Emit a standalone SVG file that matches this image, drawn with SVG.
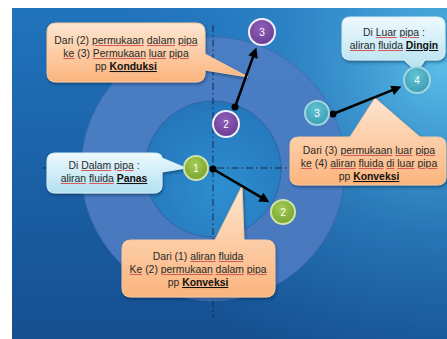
<svg xmlns="http://www.w3.org/2000/svg" width="447" height="339" viewBox="0 0 447 339">
<defs>
<linearGradient id="bgBase" x1="0" y1="0" x2="0" y2="1">
<stop offset="0" stop-color="#2173bd"/>
<stop offset="1" stop-color="#154f90"/>
</linearGradient>
<radialGradient id="bgHi" cx="440" cy="70" r="330" gradientUnits="userSpaceOnUse">
<stop offset="0" stop-color="#5cc0ea" stop-opacity="0.95"/>
<stop offset="0.5" stop-color="#3a95d0" stop-opacity="0.45"/>
<stop offset="1" stop-color="#2a80c4" stop-opacity="0"/>
</radialGradient>
<linearGradient id="ring" x1="0" y1="0" x2="0" y2="1">
<stop offset="0" stop-color="#4a7ec4"/>
<stop offset="1" stop-color="#4878bd"/>
</linearGradient>
<radialGradient id="core" cx="0.55" cy="0.65" r="0.7">
<stop offset="0" stop-color="#2d8fd0"/>
<stop offset="1" stop-color="#2474b8"/>
</radialGradient>
<linearGradient id="orange" x1="0" y1="0" x2="0" y2="1">
<stop offset="0" stop-color="#fde6d2"/>
<stop offset="1" stop-color="#fbb47c"/>
</linearGradient>
<linearGradient id="cyan" x1="0" y1="0" x2="0" y2="1">
<stop offset="0" stop-color="#eef9fd"/>
<stop offset="1" stop-color="#b2e1f0"/>
</linearGradient>
<radialGradient id="green" cx="0.45" cy="0.35" r="0.7">
<stop offset="0" stop-color="#a6cc55"/>
<stop offset="1" stop-color="#74a02c"/>
</radialGradient>
<radialGradient id="purple" cx="0.45" cy="0.35" r="0.7">
<stop offset="0" stop-color="#9060b8"/>
<stop offset="1" stop-color="#673a92"/>
</radialGradient>
<radialGradient id="teal" cx="0.45" cy="0.35" r="0.7">
<stop offset="0" stop-color="#62c4d4"/>
<stop offset="1" stop-color="#3a9ab2"/>
</radialGradient>
<filter id="sh" x="-20%" y="-20%" width="140%" height="150%">
<feDropShadow dx="1" dy="2" stdDeviation="1.5" flood-color="#0a2040" flood-opacity="0.45"/>
</filter>
<marker id="arr" viewBox="0 0 10 10" refX="3" refY="5" markerWidth="5" markerHeight="4" orient="auto" markerUnits="strokeWidth">
<path d="M0,0 L10,5 L0,10 Z" fill="#000"/>
</marker>
<!-- text colour above the baseline, squiggle red just below it -->
<linearGradient id="ug" gradientUnits="userSpaceOnUse" x1="0" y1="0" x2="0" y2="3">
<stop offset="0.2" stop-color="#2a2a2a"/>
<stop offset="0.2" stop-color="#d85a5a"/>
<stop offset="1" stop-color="#d85a5a"/>
</linearGradient>
<linearGradient id="ugb" gradientUnits="userSpaceOnUse" x1="0" y1="0" x2="0" y2="3">
<stop offset="0.2" stop-color="#111"/>
<stop offset="0.2" stop-color="#c85050"/>
<stop offset="1" stop-color="#c85050"/>
</linearGradient>
<linearGradient id="u44" href="#ug" gradientTransform="translate(0,44)"/>
<linearGradient id="u57" href="#ug" gradientTransform="translate(0,57)"/>
<linearGradient id="b70" href="#ugb" gradientTransform="translate(0,70)"/>
<linearGradient id="u36" href="#ug" gradientTransform="translate(0,36)"/>
<linearGradient id="u49" href="#ug" gradientTransform="translate(0,49)"/>
<linearGradient id="b49" href="#ugb" gradientTransform="translate(0,49)"/>
<linearGradient id="u154" href="#ug" gradientTransform="translate(0,154)"/>
<linearGradient id="u167" href="#ug" gradientTransform="translate(0,167)"/>
<linearGradient id="b180" href="#ugb" gradientTransform="translate(0,180)"/>
<linearGradient id="u169" href="#ug" gradientTransform="translate(0,169)"/>
<linearGradient id="u182" href="#ug" gradientTransform="translate(0,182)"/>
<linearGradient id="b182" href="#ugb" gradientTransform="translate(0,182)"/>
<linearGradient id="u260" href="#ug" gradientTransform="translate(0,260)"/>
<linearGradient id="u273" href="#ug" gradientTransform="translate(0,273)"/>
<linearGradient id="b286" href="#ugb" gradientTransform="translate(0,286)"/>
<style>
.t{font-family:"Liberation Sans",Arial,sans-serif;font-size:10.4px;fill:#2a2a2a;text-anchor:middle}
.b{font-weight:bold;fill:#111}
.d{text-decoration:underline}
.n{font-family:"Liberation Sans",Arial,sans-serif;font-size:10px;fill:#fff;text-anchor:middle}
.dash{stroke:#18284a;stroke-width:1;stroke-dasharray:7 3 1.5 3;fill:none}
.con{stroke:#000;stroke-width:2.5;fill:none;marker-end:url(#arr)}
.og{fill:url(#orange);stroke:#f6c89e;stroke-width:1;filter:url(#sh)}
.cy{fill:url(#cyan);stroke:#d4eff8;stroke-width:1;filter:url(#sh)}
.gb{fill:url(#green);stroke:#cfe2a8;stroke-width:2}
.pb{fill:url(#purple);stroke:#f2eef8;stroke-width:2}
.tb{fill:url(#teal);stroke:#9fd6e2;stroke-width:2}
</style>
</defs>
<rect x="0" y="0" width="447" height="339" fill="#ffffff"/>
<rect x="12" y="8" width="435" height="331" fill="url(#bgBase)"/>
<rect x="12" y="8" width="435" height="331" fill="url(#bgHi)"/>
<g id="pipe">
<circle cx="213" cy="169" r="132" fill="url(#ring)" stroke="#3a68a8" stroke-width="0.8"/>
<circle cx="213" cy="169" r="68" fill="url(#core)" stroke="#2a5f9c" stroke-width="0.8"/>
</g>
<g id="axes">
<line class="dash" x1="213" y1="25" x2="213" y2="318"/>
<line class="dash" x1="43" y1="168" x2="292" y2="168"/>
</g>
<g id="callout-konduksi">
<path class="og" d="M56,23 H196 Q205,23 205,32 V54 L248,77 L205,70 V73 Q205,82 196,82 H56 Q47,82 47,73 V32 Q47,23 56,23 Z"/>
<text class="t" x="126" y="44">Dari (2) <tspan class="d" fill="url(#u44)">permukaan</tspan> <tspan class="d" fill="url(#u44)">dalam</tspan> <tspan class="d" fill="url(#u44)">pipa</tspan></text>
<text class="t" x="126" y="57"><tspan class="d" fill="url(#u57)">ke</tspan> (3) <tspan class="d" fill="url(#u57)">Permukaan</tspan> <tspan class="d" fill="url(#u57)">luar</tspan> <tspan class="d" fill="url(#u57)">pipa</tspan></text>
<text class="t" x="126" y="70">pp <tspan class="b d" fill="url(#b70)">Konduksi</tspan></text>
</g>
<g id="callout-luar">
<path class="cy" d="M350,17 H437 Q445,17 445,25 V52 Q445,60 437,60 H425 L417,72 L404,60 H350 Q342,60 342,52 V25 Q342,17 350,17 Z"/>
<text class="t" x="394" y="36">Di <tspan class="d" fill="url(#u36)">Luar</tspan> <tspan class="d" fill="url(#u36)">pipa</tspan> :</text>
<text class="t" x="394" y="49"><tspan class="d" fill="url(#u49)">aliran</tspan> <tspan class="d" fill="url(#u49)">fluida</tspan> <tspan class="b d" fill="url(#b49)">Dingin</tspan></text>
</g>
<g id="callout-konveksi-luar">
<path class="og" d="M299,137 H350 L375,98 L420,137 H437 Q446,137 446,145 V177 Q446,185 437,185 H299 Q290,185 290,177 V145 Q290,137 299,137 Z"/>
<text class="t" x="369" y="154">Dari (3) <tspan class="d" fill="url(#u154)">permukaan</tspan> <tspan class="d" fill="url(#u154)">luar</tspan> <tspan class="d" fill="url(#u154)">pipa</tspan></text>
<text class="t" x="369" y="167"><tspan class="d" fill="url(#u167)">ke</tspan> (4) <tspan class="d" fill="url(#u167)">aliran</tspan> <tspan class="d" fill="url(#u167)">fluida</tspan> <tspan class="d" fill="url(#u167)">di</tspan> <tspan class="d" fill="url(#u167)">luar</tspan> <tspan class="d" fill="url(#u167)">pipa</tspan></text>
<text class="t" x="369" y="180">pp <tspan class="b d" fill="url(#b180)">Konveksi</tspan></text>
</g>
<g id="callout-dalam">
<path class="cy" d="M55,153 H154 Q162,153 162,158 L186,168 L162,172 V185 Q162,193 154,193 H55 Q47,193 47,185 V161 Q47,153 55,153 Z"/>
<text class="t" x="104" y="169">Di <tspan class="d" fill="url(#u169)">Dalam</tspan> <tspan class="d" fill="url(#u169)">pipa</tspan> :</text>
<text class="t" x="104" y="182"><tspan class="d" fill="url(#u182)">aliran</tspan> <tspan class="d" fill="url(#u182)">fluida</tspan> <tspan class="b d" fill="url(#b182)">Panas</tspan></text>
</g>
<g id="callout-konveksi-dalam">
<path class="og" d="M131,240 H215 L242,186 L244,240 H266 Q275,240 275,249 V288 Q275,297 266,297 H131 Q122,297 122,288 V249 Q122,240 131,240 Z"/>
<text class="t" x="198" y="260">Dari (1) <tspan class="d" fill="url(#u260)">aliran</tspan> <tspan class="d" fill="url(#u260)">fluida</tspan></text>
<text class="t" x="198" y="273"><tspan class="d" fill="url(#u273)">Ke</tspan> (2) <tspan class="d" fill="url(#u273)">permukaan</tspan> <tspan class="d" fill="url(#u273)">dalam</tspan> <tspan class="d" fill="url(#u273)">pipa</tspan></text>
<text class="t" x="198" y="286">pp <tspan class="b d" fill="url(#b286)">Konveksi</tspan></text>
</g>
<g id="connectors">
<path class="con" d="M213,169 L263.4,198.6"/>
<path class="con" d="M235,107 L254,54.2"/>
<path class="con" d="M333,114 L394.9,89.2"/>
<circle cx="213" cy="169" r="3.5" fill="#000"/>
<circle cx="235" cy="107" r="3.5" fill="#000"/>
<circle cx="333" cy="114" r="3.5" fill="#000"/>
</g>
<g id="node-1-green">
<circle class="gb" cx="196" cy="168" r="12"/>
<text class="n" x="196" y="172">1</text>
</g>
<g id="node-2-green">
<circle class="gb" cx="283" cy="212" r="12"/>
<text class="n" x="283" y="216">2</text>
</g>
<g id="node-2-purple">
<circle class="pb" cx="226" cy="124" r="13"/>
<text class="n" x="226" y="128">2</text>
</g>
<g id="node-3-purple">
<circle class="pb" cx="262" cy="32" r="13"/>
<text class="n" x="262" y="36">3</text>
</g>
<g id="node-3-teal">
<circle class="tb" cx="317" cy="113" r="12"/>
<text class="n" x="317" y="117">3</text>
</g>
<g id="node-4-teal">
<circle class="tb" cx="417" cy="80" r="13"/>
<text class="n" x="417" y="84">4</text>
</g>
</svg>
